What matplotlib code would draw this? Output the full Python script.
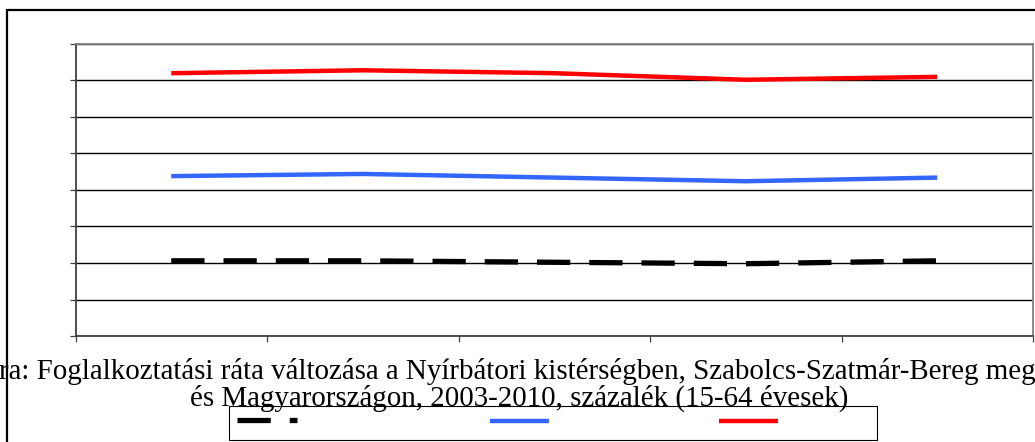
import matplotlib
matplotlib.use("Agg")
import matplotlib.pyplot as plt
from matplotlib.lines import Line2D
from matplotlib.patches import Rectangle

# adatok (foglalkoztatasi rata, %)
pontok = [0, 1, 2, 3, 4]
nyirbator = [30.3, 30.3, 30.1, 29.9, 30.3]
szabolcs = [41.9, 42.2, 41.7, 41.2, 41.7]
magyarorszag = [56.0, 56.4, 56.0, 55.1, 55.5]
y_ticks = [20, 25, 30, 35, 40, 45, 50, 55, 60]

cim1 = "ra: Foglalkoztatási ráta változása a Nyírbátori kistérségben, Szabolcs-Szatmár-Bereg megyében"
cim2 = "és Magyarországon, 2003-2010, százalék (15-64 évesek)"

W, H = 1035, 442


def fx(x):
    return x / W


def fy(y):
    return 1 - y / H


fig = plt.figure(figsize=(W / 100, H / 100), dpi=100)
ax = fig.add_axes([fx(75.5), fy(336), fx(1033) - fx(75.5), fy(44) - fy(336)])

ax.plot(pontok, nyirbator, color='black', lw=3.8, dashes=(6.3, 3.6),
        solid_capstyle='butt', dash_capstyle='butt')
ax.plot(pontok, szabolcs, color='#3366ff', lw=3.2, solid_capstyle='butt')
ax.plot(pontok, magyarorszag, color='#ff0000', lw=3.2, solid_capstyle='butt')

ax.set_xlim(-0.5, 4.5)
ax.set_ylim(y_ticks[0], y_ticks[-1])
ax.set_yticks(y_ticks)
ax.set_yticklabels([])
ax.set_xticks([p - 0.5 for p in pontok] + [4.5])
ax.set_xticklabels([])
ax.grid(axis='y', color='black', lw=1.0)
ax.set_axisbelow(True)
ax.tick_params(axis='y', length=4.3, width=0.9, color='#404040')
ax.tick_params(axis='x', length=4.3, width=0.9, color='#404040')
ax.spines['left'].set_color('#404040')
ax.spines['bottom'].set_color('#404040')
ax.spines['top'].set_color('#808080')
ax.spines['right'].set_color('#808080')
for s in ax.spines.values():
    s.set_linewidth(1.3)

# kulso keret
fig.add_artist(Rectangle((fx(7), fy(460)), fx(1100) - fx(7), fy(10) - fy(460),
                         fill=False, edgecolor='black', lw=1.6,
                         transform=fig.transFigure))

# felirat (a bal/jobb szelen levagva, mint az eredetin)
fig.text(fx(-1), fy(379), cim1, ha='left', va='baseline', fontsize=20.9,
         family='Liberation Serif')
fig.text(fx(519), fy(406), cim2, ha='center', va='baseline', fontsize=20.9,
         family='Liberation Serif')

# jelmagyarazat
fig.add_artist(Rectangle((fx(229), fy(440)), fx(877) - fx(229), fy(406) - fy(440),
                         fill=False, edgecolor='black', lw=0.8,
                         transform=fig.transFigure))
fig.add_artist(Line2D([fx(237), fx(297)], [fy(420), fy(420)], color='black', lw=3.8,
                      dashes=(6.3, 3.6), dash_capstyle='butt', transform=fig.transFigure))
fig.add_artist(Line2D([fx(490), fx(549)], [fy(421), fy(421)], color='#3366ff', lw=3.2,
                      solid_capstyle='butt', transform=fig.transFigure))
fig.add_artist(Line2D([fx(719), fx(778)], [fy(421), fy(421)], color='#ff0000', lw=3.2,
                      solid_capstyle='butt', transform=fig.transFigure))

fig.savefig("out.png", dpi=100)
